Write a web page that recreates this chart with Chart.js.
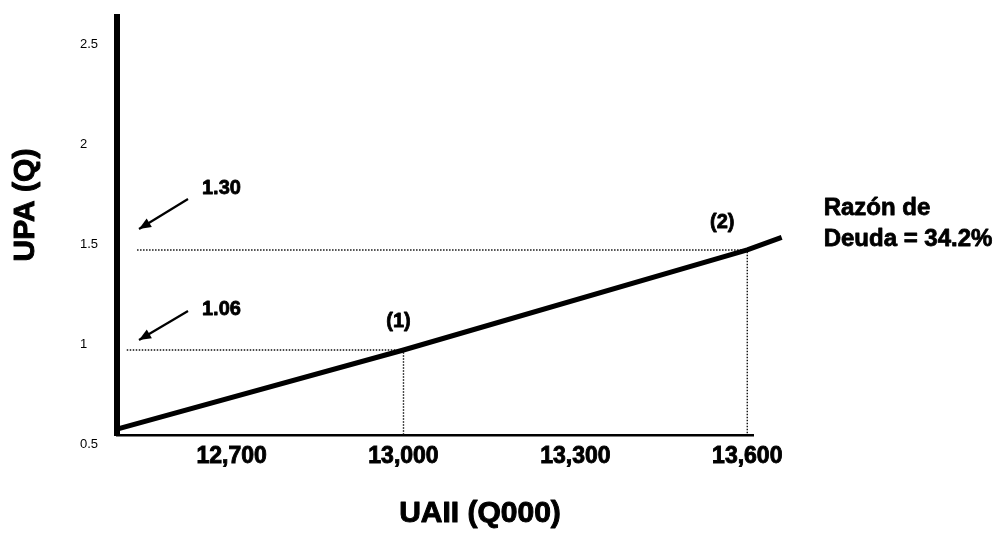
<!DOCTYPE html>
<html>
<head>
<meta charset="utf-8">
<script src="https://cdn.jsdelivr.net/npm/chart.js@4/dist/chart.umd.min.js"></script>
<style>
  html, body { margin: 0; padding: 0; background: #fff; }
  #wrap { width: 1000px; height: 541px; position: relative; }
</style>
</head>
<body>
<div id="wrap"><canvas id="c"></canvas></div>
<script>
// UAII (EBIT, Q000) and UPA (EPS, Q) along the 34.2% debt-ratio line
const uaii = [12500, 13000, 13600, 13660];
const upa = [0.87, 1.06, 1.30, 1.33];
// points marked (1) and (2), with their EPS callouts
const markedIdx = [1, 2];
const markLabels = ['(1)', '(2)'];
// where each dotted guide starts on the left
const guideFrom = [12517, 12535];
const xTicks = [12700, 13000, 13300, 13600];
const yTicks = [0.5, 1, 1.5, 2, 2.5];
const seriesLabel = ['Razón de', 'Deuda = 34.2%'];

const EPS_MIN = 0.856, EPS_MAX = 1.859;
const FONT = '"Liberation Sans", Arial, sans-serif';

const guideSets = markedIdx.map((i, k) => ({
  data: [
    { x: guideFrom[k], y: upa[i] },
    { x: uaii[i], y: upa[i] },
    { x: uaii[i], y: EPS_MIN }
  ],
  yAxisID: 'eps',
  borderColor: '#111',
  borderWidth: 1.4,
  borderDash: [1.5, 1.5],
  pointRadius: 0,
  fill: false,
  order: 1
}));

// per-mark placement of the "(n)" tags and the arrow callouts
const tagOffset = [{ dx: -5, dy: -28 }, { dx: -25, dy: -27 }];
const callout = [
  { headDy: -10, tailDy: -39, textDy: -40 },
  { headDy: -21, tailDy: -51, textDy: -61 }
];

function arrow(ctx, x0, y0, x1, y1) {
  ctx.beginPath();
  ctx.moveTo(x0, y0);
  ctx.lineTo(x1, y1);
  ctx.lineWidth = 2.2;
  ctx.strokeStyle = '#000';
  ctx.stroke();
  const a = Math.atan2(y1 - y0, x1 - x0);
  const L = 12, W = 5;
  ctx.beginPath();
  ctx.moveTo(x1, y1);
  ctx.lineTo(x1 - L * Math.cos(a) + W * Math.sin(a), y1 - L * Math.sin(a) - W * Math.cos(a));
  ctx.lineTo(x1 - L * Math.cos(a) - W * Math.sin(a), y1 - L * Math.sin(a) + W * Math.cos(a));
  ctx.closePath();
  ctx.fillStyle = '#000';
  ctx.fill();
}

// heavy text: fill plus a thin outline
function heavyText(ctx, s, x, y) {
  ctx.fillText(s, x, y);
  ctx.strokeText(s, x, y);
}

const annotations = {
  id: 'annotations',
  afterDraw(chart) {
    const { ctx, chartArea } = chart;
    const xs = chart.scales.x, es = chart.scales.eps;
    ctx.save();
    ctx.fillStyle = '#000';
    ctx.strokeStyle = '#000';
    ctx.lineJoin = 'round';

    // axis titles
    ctx.font = 'bold 30px ' + FONT;
    ctx.lineWidth = 1;
    ctx.textAlign = 'center';
    ctx.textBaseline = 'middle';
    heavyText(ctx, 'UAII (Q000)', 480, 514);
    ctx.save();
    ctx.translate(26, 205);
    ctx.rotate(-Math.PI / 2);
    heavyText(ctx, 'UPA (Q)', 0, 0);
    ctx.restore();

    // point tags and EPS callouts
    markedIdx.forEach((i, k) => {
      const px = xs.getPixelForValue(uaii[i]);
      const py = es.getPixelForValue(upa[i]);
      const c = callout[k];
      const left = chartArea.left;
      arrow(ctx, left + 71, py + c.tailDy, left + 22, py + c.headDy);

      ctx.font = 'bold 20px ' + FONT;
      ctx.lineWidth = 0.8;
      ctx.textAlign = 'center';
      ctx.textBaseline = 'middle';
      heavyText(ctx, markLabels[k], px + tagOffset[k].dx, py + tagOffset[k].dy);
      ctx.textAlign = 'left';
      heavyText(ctx, upa[i].toFixed(2), left + 85, py + c.textDy);
    });

    // series label beside the end of the line
    const n = uaii.length - 1;
    const ex = xs.getPixelForValue(uaii[n]);
    const ey = es.getPixelForValue(upa[n]);
    ctx.font = 'bold 24px ' + FONT;
    ctx.lineWidth = 0.8;
    ctx.textAlign = 'left';
    ctx.textBaseline = 'alphabetic';
    heavyText(ctx, seriesLabel[0], ex + 42, ey - 22);
    heavyText(ctx, seriesLabel[1], ex + 42, ey + 9);
    ctx.restore();
  }
};

new Chart(document.getElementById('c'), {
  type: 'line',
  data: {
    datasets: [
      {
        data: uaii.map((x, i) => ({ x, y: upa[i] })),
        yAxisID: 'eps',
        borderColor: '#000',
        borderWidth: 5,
        pointRadius: 0,
        fill: false,
        clip: false,
        order: 0
      },
      ...guideSets
    ]
  },
  options: {
    responsive: true,
    maintainAspectRatio: false,
    animation: false,
    events: [],
    layout: { padding: { left: 80, right: 247, top: 17, bottom: 0 } },
    plugins: { legend: { display: false }, tooltip: { enabled: false } },
    scales: {
      x: {
        type: 'linear',
        min: 12500,
        max: 13610,
        afterFit: s => { s.height = 106; },
        afterBuildTicks: s => { s.ticks = xTicks.map(v => ({ value: v })); },
        grid: { drawOnChartArea: false, drawTicks: false },
        border: { display: true, color: '#000', width: 2.5 },
        ticks: {
          color: '#000',
          padding: 8,
          textStrokeColor: '#000',
          textStrokeWidth: 0.9,
          font: { family: FONT, size: 23, weight: 'bold' },
          callback: v => v.toLocaleString('en-US')
        }
      },
      y: {
        type: 'linear',
        position: 'left',
        min: 0.5,
        max: 2.59,
        afterFit: s => { s.width = 37; },
        afterBuildTicks: s => { s.ticks = yTicks.map(v => ({ value: v })); },
        grid: { drawOnChartArea: false, drawTicks: false },
        border: { display: true, color: '#000', width: 6 },
        ticks: {
          color: '#000',
          crossAlign: 'far',
          padding: 0,
          labelOffset: 9,
          font: { family: FONT, size: 13 },
          callback: v => String(v)
        }
      },
      eps: {
        type: 'linear',
        display: false,
        min: EPS_MIN,
        max: EPS_MAX
      }
    }
  },
  plugins: [annotations]
});
</script>
</body>
</html>
